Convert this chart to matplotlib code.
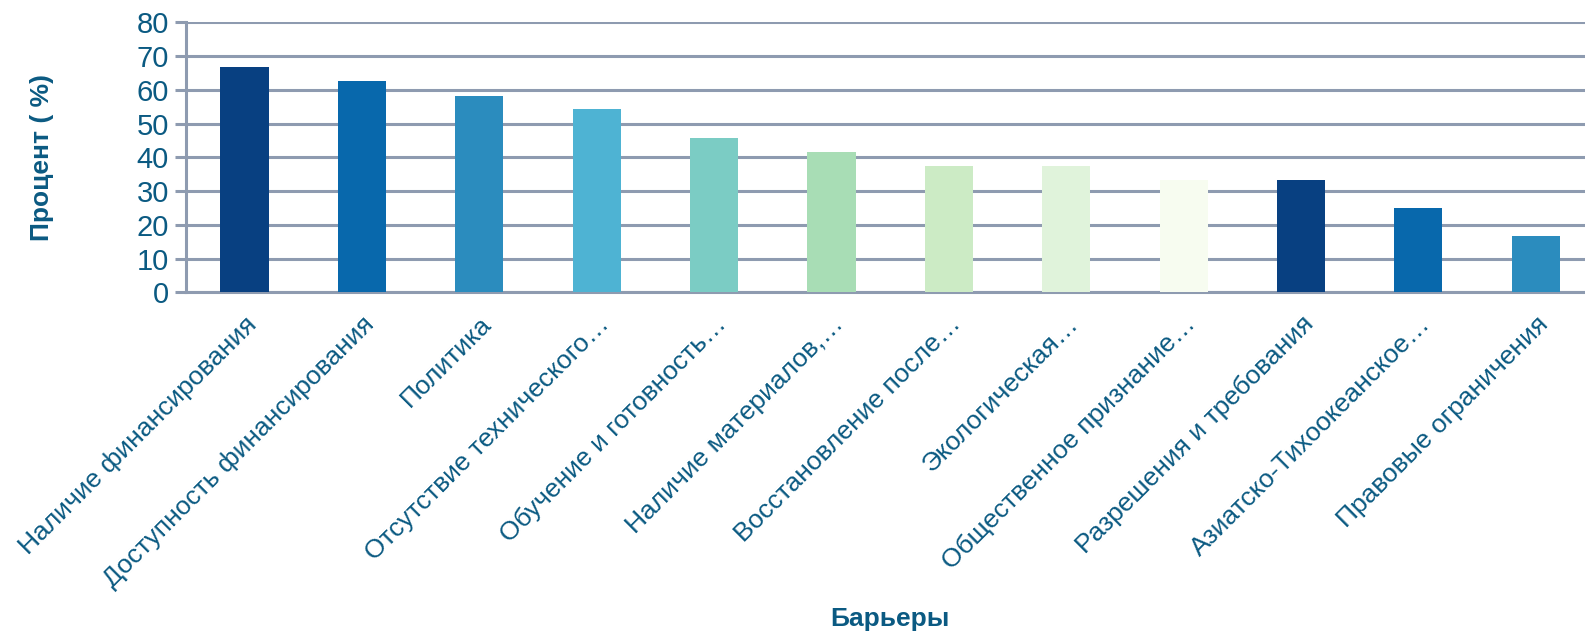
import matplotlib.pyplot as plt

plt.rcParams['font.family'] = ['Liberation Sans', 'DejaVu Sans']

# Barrier categories and share of respondents (%)
barriers = [
    'Наличие финансирования',
    'Доступность финансирования',
    'Политика',
    'Отсутствие технического…',
    'Обучение и готовность…',
    'Наличие материалов,…',
    'Восстановление после…',
    'Экологическая…',
    'Общественное признание…',
    'Разрешения и требования',
    'Азиатско-Тихоокеанское…',
    'Правовые ограничения',
]
percent = [66.7, 62.5, 58.3, 54.2, 45.8, 41.7, 37.5, 37.5, 33.3, 33.3, 25.0, 16.7]
y_ticks = [0, 10, 20, 30, 40, 50, 60, 70, 80]

palette = ['#084081', '#0868ac', '#2b8cbe', '#4eb3d3', '#7bccc4',
           '#a8ddb5', '#ccebc5', '#e0f3db', '#f7fcf0']
colors = [palette[i % len(palette)] for i in range(len(barriers))]

text_color = '#0b5a82'
grid_color = '#8e9bb0'

fig = plt.figure(figsize=(15.85, 6.33), dpi=100)
ax = fig.add_axes([0.1172, 0.5382, 0.8888, 0.4266])

x = range(len(barriers))
ax.bar(x, percent, width=0.41, color=colors, zorder=3)

ax.set_xlim(-0.5, len(barriers) - 0.5)
ax.set_ylim(0, 80)
ax.set_yticks(y_ticks)
ax.set_axisbelow(True)
ax.yaxis.grid(True, color=grid_color, linewidth=2.2)

ax.set_xticks(list(x))
ax.set_xticklabels(barriers, rotation=45, ha='right', rotation_mode='anchor',
                   fontsize=19, color=text_color)
ax.tick_params(axis='x', length=0, pad=14)
ax.tick_params(axis='y', length=8, width=2.2, color=grid_color,
               labelsize=21, labelcolor=text_color, pad=4)

for side in ['top', 'right']:
    ax.spines[side].set_visible(False)
for side in ['left', 'bottom']:
    ax.spines[side].set_color(grid_color)
    ax.spines[side].set_linewidth(2.2)

# axis titles
fig.text(0.0262, 0.751, 'Процент ( %)', rotation=90, fontsize=19, fontweight='bold',
         color=text_color, ha='center', va='center')
fig.text(0.5615, 0.0221, 'Барьеры', fontsize=19, fontweight='bold',
         color=text_color, ha='center', va='center')

fig.savefig('out.png', dpi=100)
